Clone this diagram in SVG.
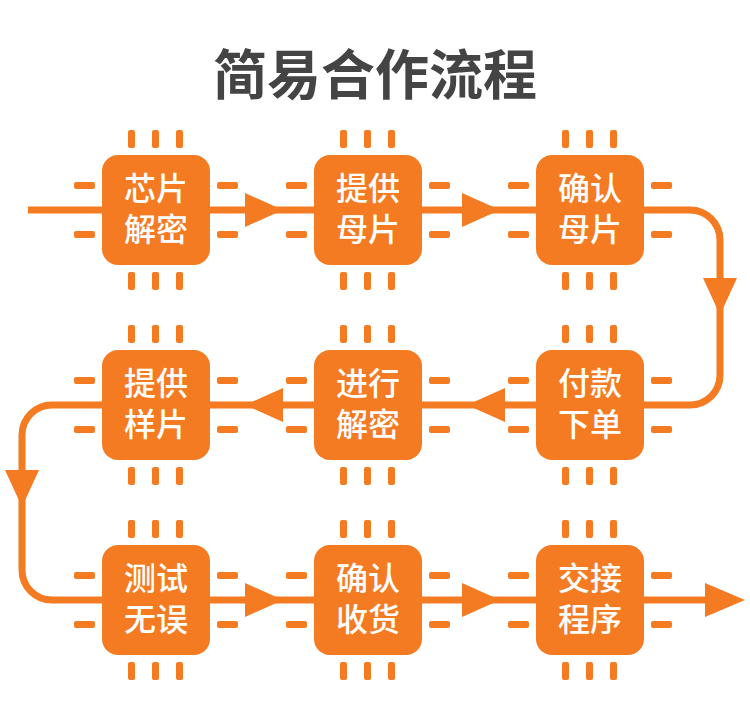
<svg xmlns="http://www.w3.org/2000/svg" width="750" height="721" viewBox="0 0 750 721">
<defs>
<style>
.ln{fill:none;stroke:#f47b22;stroke-width:7}
.ar{fill:#f47b22}
.box{fill:#f47b22}
.pin{fill:#f47b22}
.t{fill:#fff;font-family:"Noto Sans CJK SC",sans-serif;font-size:32px;font-weight:500;text-anchor:middle}
.title{fill:#444;font-family:"Noto Sans CJK SC",sans-serif;font-size:54px;font-weight:bold;text-anchor:middle}
</style>
<g id="chip">
<rect class="box" x="-54" y="-55" width="108" height="110" rx="16"/>
<rect class="pin" x="-28" y="-80" width="7" height="18" rx="2"/>
<rect class="pin" x="-4" y="-80" width="7" height="18" rx="2"/>
<rect class="pin" x="20" y="-80" width="7" height="18" rx="2"/>
<rect class="pin" x="-28" y="62" width="7" height="18" rx="2"/>
<rect class="pin" x="-4" y="62" width="7" height="18" rx="2"/>
<rect class="pin" x="20" y="62" width="7" height="18" rx="2"/>
<rect class="pin" x="-82" y="-28" width="21" height="7" rx="2"/>
<rect class="pin" x="-82" y="21" width="21" height="7" rx="2"/>
<rect class="pin" x="61" y="-28" width="21" height="7" rx="2"/>
<rect class="pin" x="61" y="21" width="21" height="7" rx="2"/>
</g>
</defs>
<rect width="750" height="721" fill="#fff"/>
<text class="title" x="375" y="95">简易合作流程</text>
<g id="connectors">
<path class="ln" d="M28 210 H690 A30 30 0 0 1 720 240 V375 A30 30 0 0 1 690 405 H52 A30 30 0 0 0 22 435 V570 A30 30 0 0 0 52 600 H720"/>
<polygon class="ar" points="245,193 283,210 245,227"/>
<polygon class="ar" points="462,193 500,210 462,227"/>
<polygon class="ar" points="703,278 737,278 720,315"/>
<polygon class="ar" points="505,388 467,405 505,422"/>
<polygon class="ar" points="283,388 245,405 283,422"/>
<polygon class="ar" points="5,470 39,470 22,507"/>
<polygon class="ar" points="245,583 283,600 245,617"/>
<polygon class="ar" points="462,583 500,600 462,617"/>
<polygon class="ar" points="705,583 745,600 705,617"/>
</g>
<g id="n1" transform="translate(156,210)"><use href="#chip"/><text class="t" y="-10">芯片</text><text class="t" y="31">解密</text></g>
<g id="n2" transform="translate(368,210)"><use href="#chip"/><text class="t" y="-10">提供</text><text class="t" y="31">母片</text></g>
<g id="n3" transform="translate(590,210)"><use href="#chip"/><text class="t" y="-10">确认</text><text class="t" y="31">母片</text></g>
<g id="n4" transform="translate(590,405)"><use href="#chip"/><text class="t" y="-10">付款</text><text class="t" y="31">下单</text></g>
<g id="n5" transform="translate(368,405)"><use href="#chip"/><text class="t" y="-10">进行</text><text class="t" y="31">解密</text></g>
<g id="n6" transform="translate(156,405)"><use href="#chip"/><text class="t" y="-10">提供</text><text class="t" y="31">样片</text></g>
<g id="n7" transform="translate(156,600)"><use href="#chip"/><text class="t" y="-10">测试</text><text class="t" y="31">无误</text></g>
<g id="n8" transform="translate(368,600)"><use href="#chip"/><text class="t" y="-10">确认</text><text class="t" y="31">收货</text></g>
<g id="n9" transform="translate(590,600)"><use href="#chip"/><text class="t" y="-10">交接</text><text class="t" y="31">程序</text></g>
</svg>
